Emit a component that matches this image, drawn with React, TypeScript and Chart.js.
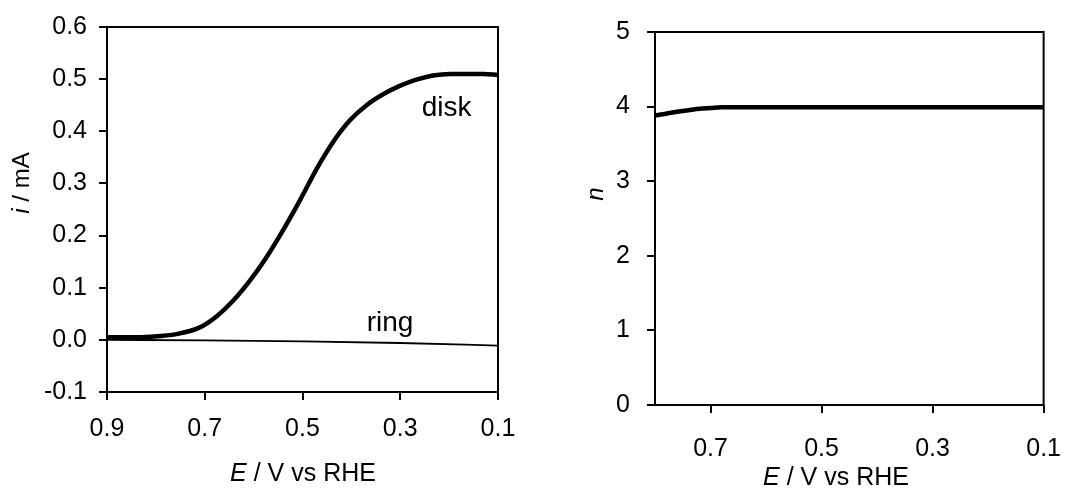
import React, { useEffect, useRef } from "react";
import { Chart, registerables } from "chart.js";

Chart.register(...registerables);

// ---- Data ----
const diskE = [0.9, 0.847, 0.812, 0.758, 0.71, 0.676, 0.642, 0.608, 0.574, 0.54, 0.505, 0.471, 0.437, 0.403, 0.369, 0.335, 0.301, 0.267, 0.233, 0.198, 0.13, 0.1];
const diskI = [0.005, 0.005, 0.006, 0.011, 0.024, 0.045, 0.075, 0.113, 0.158, 0.21, 0.268, 0.328, 0.38, 0.421, 0.45, 0.471, 0.487, 0.499, 0.507, 0.51, 0.51, 0.508];
const ringE = [0.9, 0.7, 0.5, 0.3, 0.1];
const ringI = [0.0, -0.001, -0.003, -0.006, -0.011];
const nE = [0.8, 0.78, 0.76, 0.74, 0.72, 0.7, 0.68, 0.65, 0.5, 0.3, 0.1];
const nVal = [3.88, 3.905, 3.93, 3.95, 3.97, 3.98, 3.99, 3.99, 3.99, 3.99, 3.99];

const leftXTicks = [0.9, 0.7, 0.5, 0.3, 0.1];
const leftYTicks = [-0.1, 0, 0.1, 0.2, 0.3, 0.4, 0.5, 0.6];
const rightXTicks = [0.7, 0.5, 0.3, 0.1];
const rightYTicks = [0, 1, 2, 3, 4, 5];

const FONT = "'Liberation Sans', Arial, Helvetica, sans-serif";
const TICK_SIZE = 25;
const XTITLE_SIZE = 25;
const YTITLE_SIZE = 24;
const LABEL_SIZE = 28;

type Seg = { t: string; italic?: boolean };

function drawSegs(ctx: CanvasRenderingContext2D, segs: Seg[], x: number, y: number, size: number, rotate: boolean) {
  ctx.save();
  ctx.translate(x, y);
  if (rotate) ctx.rotate(-Math.PI / 2);
  ctx.fillStyle = "#000";
  ctx.textBaseline = "middle";
  ctx.textAlign = "left";
  let total = 0;
  const widths = segs.map((s) => {
    ctx.font = `${s.italic ? "italic " : ""}${size}px ${FONT}`;
    const w = ctx.measureText(s.t).width;
    total += w;
    return w;
  });
  let cx = -total / 2;
  segs.forEach((s, i) => {
    ctx.font = `${s.italic ? "italic " : ""}${size}px ${FONT}`;
    ctx.fillText(s.t, cx, 0);
    cx += widths[i];
  });
  ctx.restore();
}

function makeDecor(cfg: {
  xTitle: Seg[]; xTitlePos: [number, number];
  yTitle: Seg[]; yTitlePos: [number, number];
  labels: { text: string; x: number; y: number }[];
}) {
  return {
    id: "decor",
    afterDatasetsDraw(chart: any) {
      const { ctx, chartArea: a } = chart;
      ctx.save();
      ctx.strokeStyle = "#000";
      ctx.lineWidth = 2;
      ctx.strokeRect(a.left, a.top, a.right - a.left, a.bottom - a.top);
      ctx.restore();
      drawSegs(ctx, cfg.xTitle, cfg.xTitlePos[0], cfg.xTitlePos[1], XTITLE_SIZE, false);
      drawSegs(ctx, cfg.yTitle, cfg.yTitlePos[0], cfg.yTitlePos[1], YTITLE_SIZE, true);
      const xs = chart.scales.x;
      const ys = chart.scales.y;
      cfg.labels.forEach((l) => {
        drawSegs(ctx, [{ t: l.text }], xs.getPixelForValue(l.x), ys.getPixelForValue(l.y), LABEL_SIZE, false);
      });
    },
  };
}

function toPts(xs: number[], ys: number[]) {
  return xs.map((x, i) => ({ x, y: ys[i] }));
}

function axisX(min: number, max: number, ticks: number[], height: number, pad: number) {
  return {
    type: "linear" as const,
    min, max, reverse: true,
    afterBuildTicks: (s: any) => { s.ticks = ticks.map((v) => ({ value: v })); },
    afterFit: (s: any) => { s.height = height; },
    border: { display: false },
    grid: { drawOnChartArea: false, drawTicks: true, tickLength: 8, color: "#000", lineWidth: 2 },
    ticks: { color: "#000", font: { family: FONT, size: TICK_SIZE }, padding: pad, maxRotation: 0, autoSkip: false, callback: (v: any) => Number(v).toFixed(1) },
  };
}

function axisY(min: number, max: number, ticks: number[], width: number, pad: number, dec: number) {
  return {
    type: "linear" as const,
    min, max,
    afterBuildTicks: (s: any) => { s.ticks = ticks.map((v) => ({ value: v })); },
    afterFit: (s: any) => { s.width = width; },
    border: { display: false },
    grid: { drawOnChartArea: false, drawTicks: true, tickLength: 8, color: "#000", lineWidth: 2 },
    ticks: { color: "#000", font: { family: FONT, size: TICK_SIZE }, padding: pad, autoSkip: false, callback: (v: any) => Number(v).toFixed(dec) },
  };
}

export default function App() {
  const leftRef = useRef<HTMLCanvasElement>(null);
  const rightRef = useRef<HTMLCanvasElement>(null);

  useEffect(() => {
    document.body.style.margin = "0";
    const common = {
      animation: false as const,
      responsive: false,
      maintainAspectRatio: false,
      events: [] as any[],
      plugins: { legend: { display: false }, tooltip: { enabled: false } },
      elements: { point: { radius: 0 } },
    };

    const left = new Chart(leftRef.current!, {
      type: "line",
      data: {
        datasets: [
          { data: toPts(diskE, diskI), borderColor: "#000", borderWidth: 4.5, cubicInterpolationMode: "monotone", clip: 4 } as any,
          { data: toPts(ringE, ringI), borderColor: "#000", borderWidth: 1.8, cubicInterpolationMode: "monotone", clip: 4 } as any,
        ],
      },
      options: {
        ...common,
        layout: { padding: { top: 24, right: 42, left: 0, bottom: 0 } },
        scales: {
          x: axisX(0.1, 0.9, leftXTicks, 101, 14),
          y: axisY(-0.1, 0.6, leftYTicks, 107, 12, 1),
        },
      } as any,
      plugins: [
        makeDecor({
          xTitle: [{ t: "E", italic: true }, { t: " / V vs RHE" }],
          xTitlePos: [303, 474],
          yTitle: [{ t: "i", italic: true }, { t: " / mA" }],
          yTitlePos: [22, 183],
          labels: [
            { text: "disk", x: 0.205, y: 0.445 },
            { text: "ring", x: 0.321, y: 0.031 },
          ],
        }),
      ],
    });

    const right = new Chart(rightRef.current!, {
      type: "line",
      data: {
        datasets: [
          { data: toPts(nE, nVal), borderColor: "#000", borderWidth: 4.5, cubicInterpolationMode: "monotone", clip: 4 } as any,
        ],
      },
      options: {
        ...common,
        layout: { padding: { top: 30, right: 37, left: 0, bottom: 0 } },
        scales: {
          x: axisX(0.1, 0.8, rightXTicks, 88, 21),
          y: axisY(0, 5, rightYTicks, 115, 17, 0),
        },
      } as any,
      plugins: [
        makeDecor({
          xTitle: [{ t: "E", italic: true }, { t: " / V vs RHE" }],
          xTitlePos: [836 - 540, 478],
          yTitle: [{ t: "n", italic: true }],
          yTitlePos: [596 - 540, 194],
          labels: [],
        }),
      ],
    });

    return () => {
      left.destroy();
      right.destroy();
    };
  }, []);

  return (
    <div style={{ position: "relative", width: 1082, height: 493, background: "#fff", overflow: "hidden" }}>
      <canvas ref={leftRef} width={540} height={493} style={{ position: "absolute", left: 0, top: 0, width: 540, height: 493 }} />
      <canvas ref={rightRef} width={542} height={493} style={{ position: "absolute", left: 540, top: 0, width: 542, height: 493 }} />
    </div>
  );
}
